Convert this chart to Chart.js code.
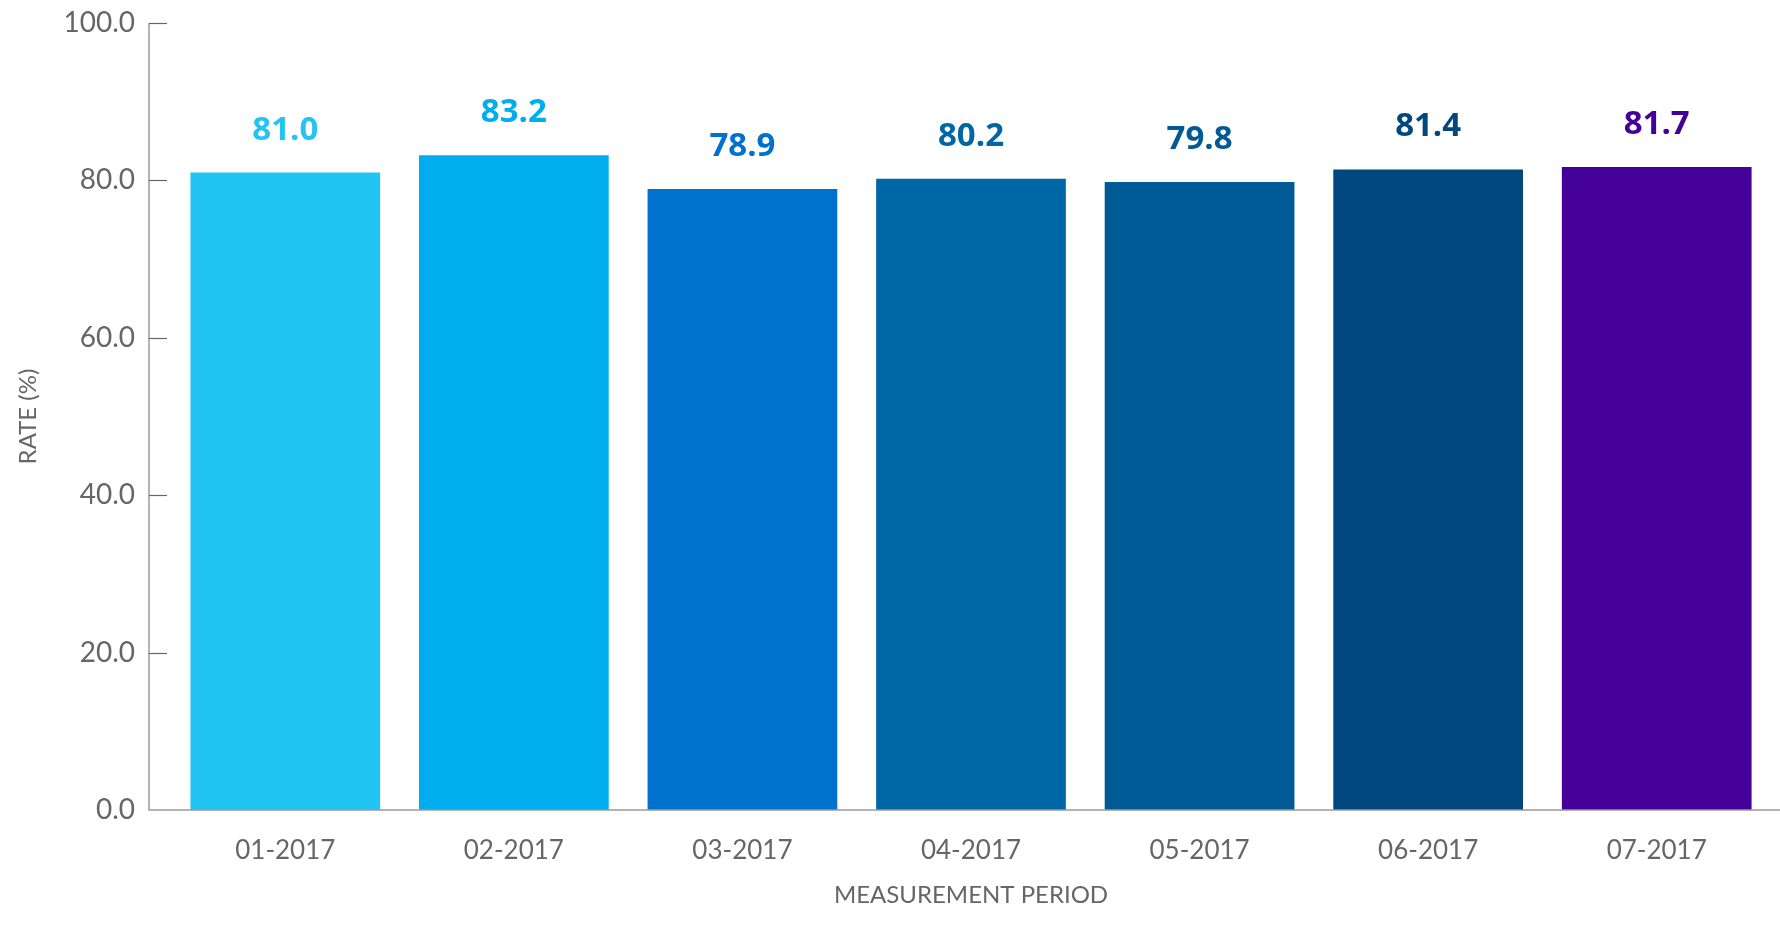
<!DOCTYPE html>
<html lang="en">
<head>
    <meta charset="UTF-8">
    <title>Rate by Measurement Period</title>
    <script src="https://cdn.jsdelivr.net/npm/chart.js"></script>
    <style>
        html, body {
            margin: 0;
            padding: 0;
            background: #fff;
        }
        #wrap {
            width: 1780px;
            height: 941px;
            position: relative;
        }
    </style>
</head>
<body>
    <div id="wrap">
        <canvas id="rateChart"></canvas>
    </div>

    <script>
        // data
        var periods = ['01-2017', '02-2017', '03-2017', '04-2017', '05-2017', '06-2017', '07-2017'];
        var rates = [81.0, 83.2, 78.9, 80.2, 79.8, 81.4, 81.7];
        var barColors = ['#21C4F3', '#00AEEF', '#0072CE', '#0067A6', '#005A96', '#00467F', '#440099'];
        var yTicks = [0, 20, 40, 60, 80, 100];

        // axis lines with short inward tick marks, set a little left of the bars
        var axisLines = {
            id: 'axisLines',
            afterDraw: function (chart) {
                var ctx = chart.ctx;
                var area = chart.chartArea;
                var y = chart.scales.y;
                var x0 = area.left - 22;
                ctx.save();
                ctx.strokeStyle = '#9a9a9a';
                ctx.lineWidth = 1.5;
                ctx.beginPath();
                ctx.moveTo(x0, y.getPixelForValue(100));
                ctx.lineTo(x0, area.bottom);
                ctx.lineTo(chart.width, area.bottom);
                ctx.stroke();
                ctx.strokeStyle = '#666';
                ctx.lineWidth = 1.2;
                yTicks.forEach(function (v) {
                    if (v === 0) return;
                    var py = Math.round(y.getPixelForValue(v)) + 0.5;
                    ctx.beginPath();
                    ctx.moveTo(x0, py);
                    ctx.lineTo(x0 + 18, py);
                    ctx.stroke();
                });
                ctx.restore();
            }
        };

        // value labels above each bar, in the bar colour
        var valueLabels = {
            id: 'valueLabels',
            afterDatasetsDraw: function (chart) {
                var ctx = chart.ctx;
                var meta = chart.getDatasetMeta(0);
                ctx.save();
                ctx.font = 'bold 33px "Open Sans", sans-serif';
                ctx.textAlign = 'center';
                ctx.textBaseline = 'alphabetic';
                meta.data.forEach(function (bar, i) {
                    ctx.fillStyle = barColors[i];
                    ctx.fillText(rates[i].toFixed(1), bar.x, bar.y - 33);
                });
                ctx.restore();
            }
        };

        var ctxRate = document.getElementById('rateChart').getContext('2d');
        var rateChart = new Chart(ctxRate, {
            type: 'bar',
            data: {
                labels: periods,
                datasets: [{
                    label: 'Rate (%)',
                    data: rates,
                    backgroundColor: barColors,
                    borderWidth: 0,
                    barPercentage: 0.83,
                    categoryPercentage: 1.0
                }]
            },
            options: {
                responsive: true,
                maintainAspectRatio: false,
                animation: false,
                layout: {
                    padding: { top: 23, right: 9, left: 0, bottom: 0 }
                },
                plugins: {
                    legend: { display: false },
                    tooltip: { enabled: false }
                },
                scales: {
                    x: {
                        grid: { display: false, drawTicks: false },
                        border: { display: false },
                        ticks: {
                            color: '#666',
                            padding: 25,
                            font: { family: 'Lato', size: 26 }
                        },
                        title: {
                            display: true,
                            text: 'MEASUREMENT PERIOD',
                            color: '#666',
                            padding: { top: 0, bottom: 31 },
                            font: { family: 'Lato', size: 24 }
                        },
                        afterFit: function (scale) {
                            scale.height = 131;
                        }
                    },
                    y: {
                        min: 0,
                        max: 100,
                        afterBuildTicks: function (scale) {
                            scale.ticks = yTicks.map(function (v) { return { value: v }; });
                        },
                        grid: { display: false, drawTicks: false },
                        border: { display: false },
                        ticks: {
                            color: '#666',
                            padding: 36,
                            font: { family: 'Lato', size: 28 },
                            callback: function (v) { return Number(v).toFixed(1); }
                        },
                        title: {
                            display: true,
                            text: 'RATE (%)',
                            color: '#666',
                            padding: { top: 14, bottom: 0 },
                            font: { family: 'Lato', size: 24 }
                        },
                        afterFit: function (scale) {
                            scale.width = 171;
                            scale.paddingTop = 0;
                            scale.paddingBottom = 0;
                        }
                    }
                }
            },
            plugins: [axisLines, valueLabels]
        });
    </script>
</body>
</html>
